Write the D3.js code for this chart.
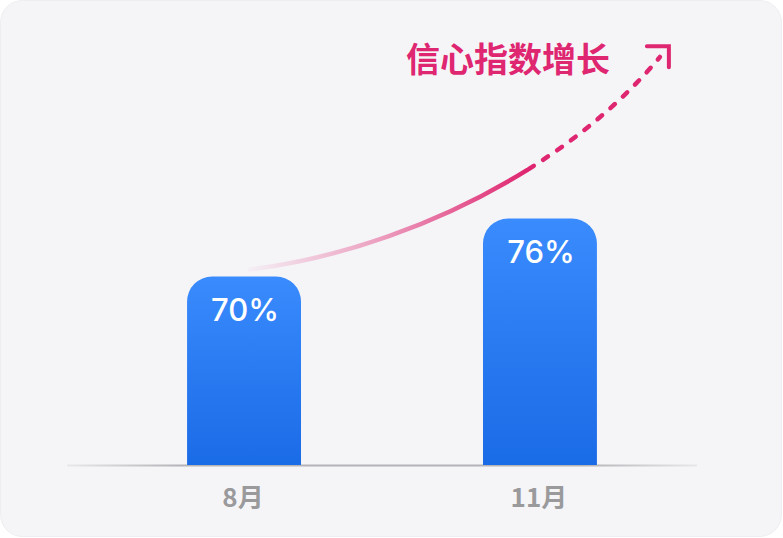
<!DOCTYPE html>
<html>
<head>
<meta charset="utf-8">
<script src="https://cdn.jsdelivr.net/npm/d3@7"></script>
<style>
  html, body { margin: 0; padding: 0; background: #ffffff; }
  svg { display: block; }
</style>
</head>
<body>
<div id="chart"></div>
<script>
// data
var months = ["8月", "11月"];
var confidence = [70, 76];
var valueLabels = ["70%", "76%"];
var trendTitle = "信心指数增长";

var W = 783, H = 538;
var pink = "#df2670";

var svg = d3.select("#chart").append("svg")
    .attr("width", W).attr("height", H);

var defs = svg.append("defs");

// card
svg.append("rect")
    .attr("x", 0.5).attr("y", 0.5)
    .attr("width", 781).attr("height", 536)
    .attr("rx", 22).attr("ry", 22)
    .attr("fill", "#f5f5f8")
    .attr("stroke", "#eeeef2");

var x = d3.scaleBand()
    .domain(months)
    .range([77, 707])
    .paddingInner(0.615)
    .paddingOuter(0.372);

var y = d3.scaleLinear()
    .domain([50.5, 80.5])
    .range([465, 175]);

var bw = x.bandwidth();
var base = y.range()[0];

// gradients
var barGrad = defs.append("linearGradient")
    .attr("id", "barGrad").attr("x1", 0).attr("y1", 0).attr("x2", 0).attr("y2", 1);
barGrad.append("stop").attr("offset", "0%").attr("stop-color", "#3a8bfd");
barGrad.append("stop").attr("offset", "100%").attr("stop-color", "#1a6be6");

var axisGrad = defs.append("linearGradient")
    .attr("id", "axisGrad").attr("x1", 0).attr("y1", 0).attr("x2", 1).attr("y2", 0);
axisGrad.append("stop").attr("offset", "0%").attr("stop-color", "#b4b4b8").attr("stop-opacity", 0.2);
axisGrad.append("stop").attr("offset", "18%").attr("stop-color", "#b4b4b8").attr("stop-opacity", 1);
axisGrad.append("stop").attr("offset", "82%").attr("stop-color", "#b4b4b8").attr("stop-opacity", 1);
axisGrad.append("stop").attr("offset", "100%").attr("stop-color", "#b4b4b8").attr("stop-opacity", 0.2);

// baseline
svg.append("rect")
    .attr("x", x.range()[0] - 10).attr("y", base - 0.5)
    .attr("width", x.range()[1] - x.range()[0]).attr("height", 2)
    .attr("fill", "url(#axisGrad)");

// bars with rounded tops
function topRounded(x0, y0, w, h, r) {
    var p = d3.path();
    p.moveTo(x0, y0 + h);
    p.lineTo(x0, y0 + r);
    p.arcTo(x0, y0, x0 + r, y0, r);
    p.lineTo(x0 + w - r, y0);
    p.arcTo(x0 + w, y0, x0 + w, y0 + r, r);
    p.lineTo(x0 + w, y0 + h);
    p.closePath();
    return p.toString();
}

svg.selectAll(".bar")
    .data(confidence)
    .enter().append("path")
    .attr("class", "bar")
    .attr("d", function(d, i) {
        return topRounded(x(months[i]), y(d), bw, base - y(d), 25);
    })
    .attr("fill", "url(#barGrad)");

svg.selectAll(".val")
    .data(confidence)
    .enter().append("text")
    .attr("class", "val")
    .attr("x", function(d, i) { return x(months[i]) + bw / 2 + 1; })
    .attr("y", function(d) { return y(d) + 44; })
    .attr("text-anchor", "middle")
    .attr("font-family", "Inter, Lato, sans-serif")
    .attr("font-weight", 500)
    .attr("font-size", 31)
    .attr("fill", "#ffffff")
    .text(function(d, i) { return valueLabels[i]; });

svg.selectAll(".cat")
    .data(months)
    .enter().append("text")
    .attr("class", "cat")
    .attr("x", function(d) { return x(d) + bw / 2 - 1; })
    .attr("y", base + 42)
    .attr("text-anchor", "middle")
    .attr("font-family", "'Noto Sans CJK SC', 'Noto Sans', sans-serif")
    .attr("font-weight", 700)
    .attr("font-size", 26)
    .attr("fill", "#9a9a9c")
    .text(function(d) { return d; });

// trend curve, anchored on the bars
var b0 = x(months[0]), b1 = x(months[1]);
var P0 = [b0 + bw * 0.55, y(confidence[0]) - 7];
var P3 = [b1 + bw + 63, 57];
var P1 = [P0[0] + 140, P0[1] - 17];
var P2 = [P3[0] - 100, P3[1] + 120];

function bez(t) {
    var u = 1 - t;
    return [
        u*u*u*P0[0] + 3*u*u*t*P1[0] + 3*u*t*t*P2[0] + t*t*t*P3[0],
        u*u*u*P0[1] + 3*u*u*t*P1[1] + 3*u*t*t*P2[1] + t*t*t*P3[1]
    ];
}
function lerp(a, b, t) { return [a[0] + (b[0]-a[0])*t, a[1] + (b[1]-a[1])*t]; }

// split where the solid part ends
var splitX = b1 + 44;
var lo = 0, hi = 1;
for (var k = 0; k < 40; k++) {
    var mid = (lo + hi) / 2;
    if (bez(mid)[0] < splitX) lo = mid; else hi = mid;
}
var ts = (lo + hi) / 2;
var A = lerp(P0, P1, ts), B = lerp(P1, P2, ts), C = lerp(P2, P3, ts);
var D = lerp(A, B, ts), E = lerp(B, C, ts), S = lerp(D, E, ts);

var solid = d3.path();
solid.moveTo(P0[0], P0[1]);
solid.bezierCurveTo(A[0], A[1], D[0], D[1], S[0], S[1]);

var dashed = d3.path();
dashed.moveTo(S[0], S[1]);
dashed.bezierCurveTo(E[0], E[1], C[0], C[1], P3[0], P3[1]);

var trendGrad = defs.append("linearGradient")
    .attr("id", "trendGrad")
    .attr("gradientUnits", "userSpaceOnUse")
    .attr("x1", P0[0]).attr("y1", 0).attr("x2", S[0]).attr("y2", 0);
trendGrad.append("stop").attr("offset", "0%").attr("stop-color", pink).attr("stop-opacity", 0.03);
trendGrad.append("stop").attr("offset", "45%").attr("stop-color", pink).attr("stop-opacity", 0.4);
trendGrad.append("stop").attr("offset", "100%").attr("stop-color", pink).attr("stop-opacity", 1);

svg.append("path")
    .attr("d", solid.toString())
    .attr("fill", "none")
    .attr("stroke", "url(#trendGrad)")
    .attr("stroke-width", 4.5)
    .attr("stroke-linecap", "round");

svg.append("path")
    .attr("d", dashed.toString())
    .attr("fill", "none")
    .attr("stroke", pink)
    .attr("stroke-width", 4.5)
    .attr("stroke-linecap", "round")
    .attr("stroke-dasharray", "6 11")
    .attr("stroke-dashoffset", 15);

// arrow head
var dir = [P3[0] - C[0], P3[1] - C[1]];
var len = Math.sqrt(dir[0]*dir[0] + dir[1]*dir[1]);
var tip = [P3[0] + dir[0] / len * 14, P3[1] + dir[1] / len * 14];
svg.append("path")
    .attr("d", "M" + (tip[0] - 22) + "," + tip[1] + "L" + tip[0] + "," + tip[1] + "L" + tip[0] + "," + (tip[1] + 21))
    .attr("fill", "none")
    .attr("stroke", pink)
    .attr("stroke-width", 4)
    .attr("stroke-linecap", "round")
    .attr("stroke-linejoin", "miter");

svg.append("text")
    .attr("x", 406)
    .attr("y", 72)
    .attr("font-family", "'Noto Sans CJK SC', sans-serif")
    .attr("font-weight", 700)
    .attr("font-size", 34)
    .attr("fill", pink)
    .text(trendTitle);
</script>
</body>
</html>
